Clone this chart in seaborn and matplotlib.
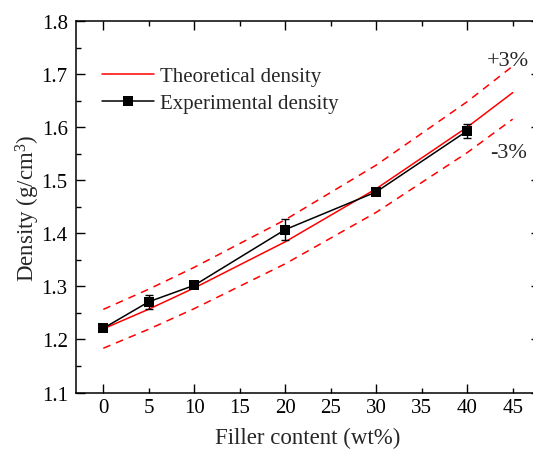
import numpy as np
import pandas as pd
import matplotlib
matplotlib.use("Agg")
import matplotlib.pyplot as plt
from matplotlib.ticker import MultipleLocator, FormatStrFormatter
import seaborn as sns

# Theoretical density (rule of mixtures) at the filler loadings
theo_x = [0, 5, 10, 20, 30, 40, 45]
theo_density = [1.220, 1.257, 1.297, 1.384, 1.484, 1.600, 1.665]
band = 0.03  # +/-3 % tolerance band

# Measured density with standard deviation
exp_x = [0, 5, 10, 20, 30, 40]
exp_density = [1.221, 1.271, 1.302, 1.407, 1.478, 1.593]
exp_err = [0.003, 0.013, 0.004, 0.020, 0.004, 0.0135]

sns.set_theme(style="ticks")
plt.rcParams["font.family"] = ["Liberation Serif", "DejaVu Serif"]
plt.rcParams["mathtext.default"] = "regular"

theo = pd.DataFrame({"x": theo_x, "rho": theo_density})
theo["upper"] = theo["rho"] * (1 + band)
theo["lower"] = theo["rho"] * (1 - band)
exp = pd.DataFrame({"x": exp_x, "rho": exp_density, "err": exp_err})

fig = plt.figure(figsize=(5.33, 4.52), dpi=100)
ax = fig.add_axes([0.1426, 0.1294, 0.8705, 0.8219])

red = "#ff0000"
sns.lineplot(data=theo, x="x", y="rho", ax=ax, color=red, lw=1.1,
             label="Theoretical density")
for col in ("upper", "lower"):
    sns.lineplot(data=theo, x="x", y=col, ax=ax, color=red, lw=1.1,
                 dashes=False, linestyle=(0, (5, 4)))

ax.errorbar(exp["x"], exp["rho"], yerr=exp["err"], fmt="none",
            ecolor="black", elinewidth=1.0, capsize=3, capthick=1.0)
sns.lineplot(data=exp, x="x", y="rho", ax=ax, color="black", lw=1.1,
             marker="s", markersize=6.5, markeredgewidth=0,
             label="Experimental density")

ax.text(44.5, 1.726, "+3%", fontsize=16, ha="center", va="center")
ax.text(44.5, 1.553, "-3%", fontsize=16, ha="center", va="center")

ax.set_xlim(-3, 48)
ax.set_ylim(1.1, 1.8)
ax.xaxis.set_major_locator(MultipleLocator(10))
ax.xaxis.set_minor_locator(MultipleLocator(5))
ax.xaxis.set_major_formatter(FormatStrFormatter("%d"))
ax.xaxis.set_minor_formatter(FormatStrFormatter("%d"))
ax.yaxis.set_major_locator(MultipleLocator(0.1))
ax.yaxis.set_minor_locator(MultipleLocator(0.05))
ax.yaxis.set_major_formatter(FormatStrFormatter("%.1f"))

ax.tick_params(which="both", direction="in", top=True, right=True,
               colors="black", labelsize=15, width=1.0)
ax.tick_params(which="major", length=6.5)
ax.tick_params(which="minor", length=3.5)
ax.tick_params(axis="x", which="both", pad=4)
ax.tick_params(axis="y", which="both", pad=6)
for s in ax.spines.values():
    s.set_linewidth(1.1)
    s.set_color("black")

ax.set_xlabel("Filler content (wt%)", fontsize=16.5, labelpad=7)
ax.set_ylabel("Density (g/cm$^{3}$)", fontsize=16.5, labelpad=0)

leg = ax.legend(loc="upper left", bbox_to_anchor=(0.055, 0.878), frameon=False,
                fontsize=15, handlelength=2.5, handletextpad=0.3,
                labelspacing=0.35, borderpad=0, borderaxespad=0)

fig.savefig("out.png", dpi=100)
